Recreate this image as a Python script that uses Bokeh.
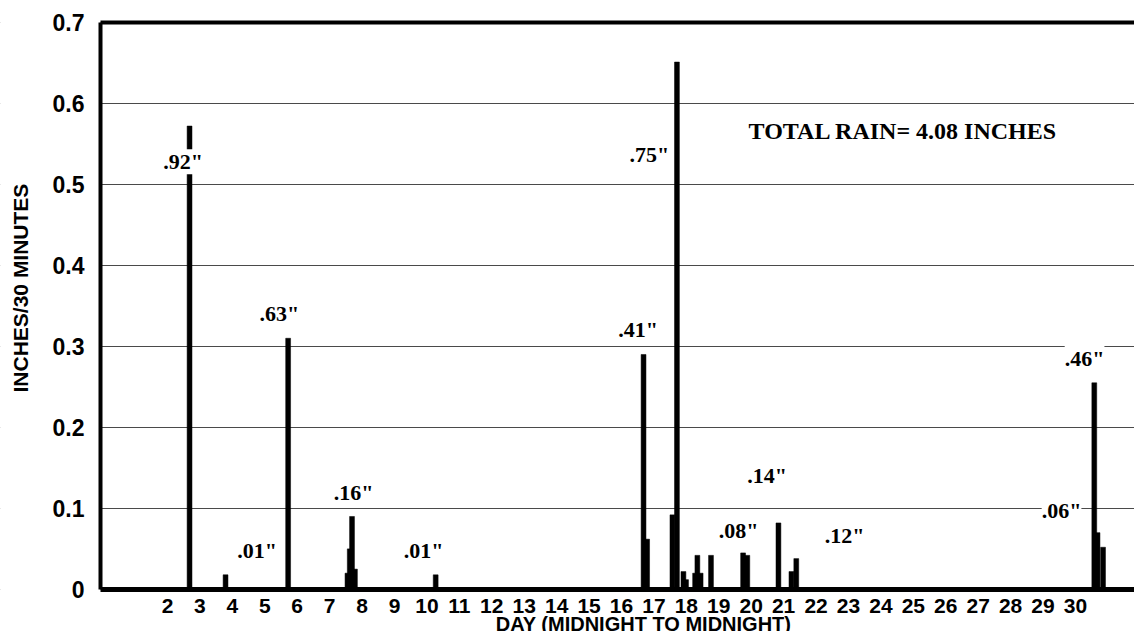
import math
from bokeh.plotting import figure
from bokeh.models import (ColumnDataSource, LabelSet, Label, LinearAxis, FixedTicker,
                          Range1d, CustomJSTickFormatter, BoxAnnotation)
from bokeh.core.properties import value
from bokeh.embed import file_html
from bokeh.resources import INLINE

# half-hour rainfall intensity spikes (day of month, inches per 30 minutes)
spike_day = [2.68, 3.79, 5.72, 7.55, 7.62, 7.69, 7.78, 10.27,
             16.68, 16.79, 17.57, 17.71, 17.91, 17.99, 18.27, 18.34, 18.44,
             18.76, 19.75, 19.88, 20.84, 21.24, 21.39, 30.58, 30.68, 30.85]
spike_in = [0.572, 0.018, 0.31, 0.02, 0.05, 0.09, 0.025, 0.018,
            0.29, 0.062, 0.092, 0.651, 0.022, 0.012, 0.02, 0.042, 0.02,
            0.042, 0.045, 0.042, 0.082, 0.022, 0.038, 0.255, 0.07, 0.052]

# storm totals written on the chart
event_total = ['.92"', '.01"', '.63"', '.16"', '.01"', '.41"', '.75"',
               '.08"', '.14"', '.12"', '.06"', '.46"']
event_day = [2.48, 4.76, 5.45, 7.74, 9.90, 16.51, 16.86,
             19.61, 20.49, 22.88, 29.57, 30.28]
event_level = [0.528, 0.048, 0.341, 0.12, 0.048, 0.321, 0.537,
               0.073, 0.141, 0.066, 0.097, 0.285]

total_text = "TOTAL RAIN= 4.08  INCHES"
total_day = 19.92
total_level = 0.566

x_title = "DAY (MIDNIGHT TO MIDNIGHT)"
y_title = "INCHES/30 MINUTES"

day_ticks = list(range(2, 31))
y_ticks = [0, 0.1, 0.2, 0.3, 0.4, 0.5, 0.6, 0.7]

# plotting area of the chart (days, inches) and the outer room for labels
day_min, day_max = -0.065, 31.82
rain_min, rain_max = 0.0, 0.7

p = figure(width=1134, height=631, output_backend="svg", toolbar_location=None,
           x_range=Range1d(-3.15, day_max), y_range=Range1d(-0.052, 0.727),
           min_border_left=0, min_border_right=0, min_border_top=0,
           min_border_bottom=0)
p.outline_line_color = None
p.background_fill_color = "white"
p.border_fill_color = "white"

# grid (hidden left of the y axis)
p.xgrid.grid_line_color = None
p.ygrid.ticker = FixedTicker(ticks=y_ticks)
p.ygrid.grid_line_color = "#4a4a4a"
p.ygrid.grid_line_width = 1
p.add_layout(BoxAnnotation(left=-6, right=day_min, fill_color="white", fill_alpha=1.0,
                           line_color=None, level="underlay"))

p.vbar(x=spike_day, top=spike_in, bottom=0, width=0.15,
       fill_color="black", line_color="black", line_width=0.5)

sans = "Liberation Sans"
serif = "Liberation Serif"

# x axis
xa = p.xaxis[0]
xa.fixed_location = rain_min
xa.bounds = (day_min, day_max)
xa.ticker = FixedTicker(ticks=day_ticks)
xa.major_tick_line_color = None
xa.minor_tick_line_color = None
xa.axis_line_width = 5
xa.axis_line_color = "black"
xa.major_label_text_font = sans
xa.major_label_text_font_style = "bold"
xa.major_label_text_font_size = "21px"
xa.major_label_text_color = "black"
xa.major_label_standoff = 4

# y axis
ya = p.yaxis[0]
ya.fixed_location = day_min
ya.bounds = (rain_min, rain_max)
ya.ticker = FixedTicker(ticks=y_ticks)
ya.formatter = CustomJSTickFormatter(code="return tick == 0 ? '0' : tick.toFixed(1);")
ya.major_tick_line_color = None
ya.minor_tick_line_color = None
ya.axis_line_width = 4
ya.axis_line_color = "black"
ya.major_label_text_font = sans
ya.major_label_text_font_style = "bold"
ya.major_label_text_font_size = "23px"
ya.major_label_text_color = "black"
ya.major_label_standoff = 10

# top border line
top = LinearAxis(fixed_location=rain_max, bounds=(day_min, day_max),
                 ticker=FixedTicker(ticks=[]), axis_line_width=4,
                 axis_line_color="black", major_tick_line_color=None,
                 minor_tick_line_color=None, major_label_standoff=0,
                 major_tick_out=0, major_tick_in=0)
p.add_layout(top, "above")

# axis titles
p.add_layout(Label(x=16.68, y=-0.043, text=x_title,
                   text_align="center", text_baseline="middle",
                   text_font=sans, text_font_style="bold",
                   text_font_size="20px", text_color="black"))
p.add_layout(Label(x=-2.53, y=0.372, text=y_title, angle=math.pi / 2,
                   text_align="center", text_baseline="middle",
                   text_font=sans, text_font_style="bold",
                   text_font_size="21px", text_color="black"))

src = ColumnDataSource(dict(day=event_day, level=event_level, txt=event_total))
labels = LabelSet(x="day", y="level", text="txt", source=src,
                  text_align="center", text_baseline="middle",
                  text_font=value(serif), text_font_style="bold",
                  text_font_size="22px", text_color="black",
                  background_fill_color="white")
p.add_layout(labels)

p.add_layout(Label(x=total_day, y=total_level, text=total_text,
                   text_align="left", text_baseline="middle",
                   text_font=serif, text_font_style="bold",
                   text_font_size="24px", text_color="black"))

open("out.html", "w").write(file_html(p, INLINE))
